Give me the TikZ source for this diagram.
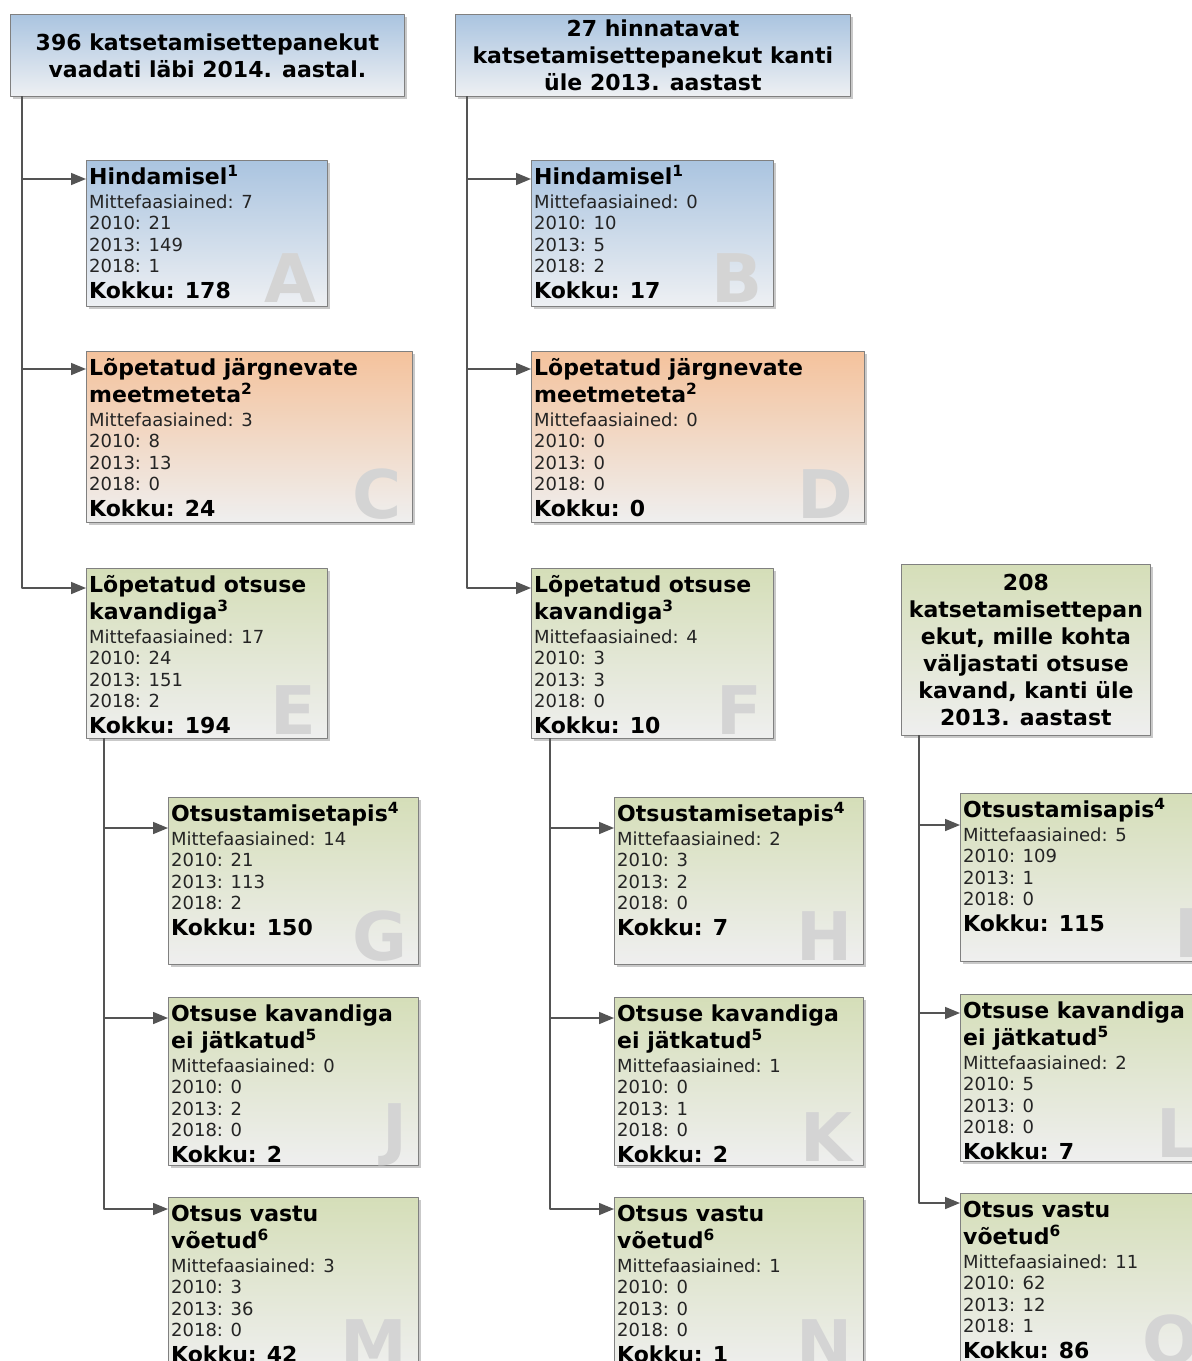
\documentclass[tikz,border=0pt]{standalone}
\usepackage{fontspec}
\setmainfont{DejaVu Sans}
\usepackage{tikz}
\usetikzlibrary{arrows.meta,shadows}
\definecolor{aac4e0}{rgb}{0.667,0.769,0.878}
\definecolor{eef0f3}{rgb}{0.933,0.941,0.953}
\definecolor{fac29c}{rgb}{0.957,0.761,0.612}
\definecolor{dddeb8}{rgb}{0.835,0.871,0.722}
\definecolor{efefef}{rgb}{0.937,0.937,0.937}
\definecolor{raam}{rgb}{0.5,0.5,0.5}
\definecolor{joon}{rgb}{0.33,0.33,0.33}
\definecolor{tahtvarv}{rgb}{0.83,0.83,0.83}
\definecolor{sisuvarv}{rgb}{0.14,0.14,0.14}
\tikzset{
  kast/.style={draw=raam, line width=0.8pt, anchor=north west, inner sep=0pt,
    drop shadow={shadow xshift=2.5pt, shadow yshift=-2.5pt, fill=black!30, opacity=0.7}},
  sinine/.style={kast, top color=aac4e0, bottom color=eef0f3},
  oranz/.style={kast, top color=fac29c, bottom color=efefef},
  roheline/.style={kast, top color=dddeb8, bottom color=efefef},
  pais/.style={align=center, font=\fontsize{22}{27}\selectfont\bfseries},
  tekst/.style={anchor=base west, inner sep=0pt, text=black},
  taht/.style={anchor=base east, inner sep=0pt, text=tahtvarv, font=\fontsize{67}{67}\selectfont\bfseries},
  liin/.style={->, draw=joon, line width=1.6pt}
}
% box: name, corner, width, height, style, title, lines, total, letter
\newcommand{\kast}[9]{%
  \node[#5, minimum width=#3, minimum height=#4] (#1) at (#2) {};
  \node[tekst] (#1t) at ([xshift=3,yshift=-24]#1.north west) {\parbox[t]{330pt}{\raggedright
    {\fontsize{22}{27}\bfseries #6\par}\vspace{2.5pt}
    {\fontsize{18}{21.5}\selectfont\leavevmode\color{sisuvarv}#7\par}
    {\fontsize{22}{25.5}\bfseries Kokku: #8\par}}};
  \node[taht] (#1m) at ([xshift=-11,yshift=4]#1.south east) {#9};
}

\begin{document}
\begin{tikzpicture}[line cap=round,line join=round,>={Triangle[length=15pt,width=12pt]},x=1pt,y=-1pt]
\useasboundingbox (0,0) rectangle (1192,1361);
\clip (0,0) rectangle (1192,1361);
% headers
\node[sinine, pais, minimum width=394, minimum height=82] (p1) at (10,14) {396 katsetamisettepanekut\\vaadati läbi 2014. aastal.};
\node[sinine, pais, minimum width=395, minimum height=82] (p2) at (455,14) {27 hinnatavat\\katsetamisettepanekut kanti\\üle 2013. aastast};
\node[roheline, pais, minimum width=249, minimum height=171] (p3) at (901,564) {208\\katsetamisettepan\\ekut, mille kohta\\väljastati otsuse\\kavand, kanti üle\\2013. aastast};
% first column
\kast{A}{86,160}{241}{146}{sinine}{Hindamisel\textsuperscript{1}}{Mittefaasiained: 7\\2010: 21\\2013: 149\\2018: 1}{178}{A}
\kast{C}{86,351}{326}{171}{oranz}{Lõpetatud järgnevate\\meetmeteta\textsuperscript{2}}{Mittefaasiained: 3\\2010: 8\\2013: 13\\2018: 0}{24}{C}
\kast{E}{86,568}{241}{170}{roheline}{Lõpetatud otsuse\\kavandiga\textsuperscript{3}}{Mittefaasiained: 17\\2010: 24\\2013: 151\\2018: 2}{194}{E}
\kast{G}{168,797}{250}{167}{roheline}{Otsustamisetapis\textsuperscript{4}}{Mittefaasiained: 14\\2010: 21\\2013: 113\\2018: 2}{150}{G}
\kast{J}{168,997}{250}{168}{roheline}{Otsuse kavandiga\\ei jätkatud\textsuperscript{5}}{Mittefaasiained: 0\\2010: 0\\2013: 2\\2018: 0}{2}{\raisebox{9pt}{J}}
\kast{M}{168,1197}{250}{175}{roheline}{Otsus vastu\\võetud\textsuperscript{6}}{Mittefaasiained: 3\\2010: 3\\2013: 36\\2018: 0}{42}{M}
% second column
\kast{B}{531,160}{242}{146}{sinine}{Hindamisel\textsuperscript{1}}{Mittefaasiained: 0\\2010: 10\\2013: 5\\2018: 2}{17}{B}
\kast{D}{531,351}{333}{171}{oranz}{Lõpetatud järgnevate\\meetmeteta\textsuperscript{2}}{Mittefaasiained: 0\\2010: 0\\2013: 0\\2018: 0}{0}{D}
\kast{F}{531,568}{242}{170}{roheline}{Lõpetatud otsuse\\kavandiga\textsuperscript{3}}{Mittefaasiained: 4\\2010: 3\\2013: 3\\2018: 0}{10}{F}
\kast{H}{614,797}{249}{167}{roheline}{Otsustamisetapis\textsuperscript{4}}{Mittefaasiained: 2\\2010: 3\\2013: 2\\2018: 0}{7}{H}
\kast{K}{614,997}{249}{168}{roheline}{Otsuse kavandiga\\ei jätkatud\textsuperscript{5}}{Mittefaasiained: 1\\2010: 0\\2013: 1\\2018: 0}{2}{K}
\kast{N}{614,1197}{249}{175}{roheline}{Otsus vastu\\võetud\textsuperscript{6}}{Mittefaasiained: 1\\2010: 0\\2013: 0\\2018: 0}{1}{N}
% third column
\kast{I}{960,793}{250}{168}{roheline}{Otsustamisapis\textsuperscript{4}}{Mittefaasiained: 5\\2010: 109\\2013: 1\\2018: 0}{115}{I}
\kast{L}{960,994}{250}{167}{roheline}{Otsuse kavandiga\\ei jätkatud\textsuperscript{5}}{Mittefaasiained: 2\\2010: 5\\2013: 0\\2018: 0}{7}{L}
\kast{O}{960,1193}{250}{175}{roheline}{Otsus vastu\\võetud\textsuperscript{6}}{Mittefaasiained: 11\\2010: 62\\2013: 12\\2018: 1}{86}{O}
% connectors
\draw[liin] ([xshift=12]p1.south west) |- ([yshift=-19]A.north west);
\draw[liin] ([xshift=12]p1.south west) |- ([yshift=-18]C.north west);
\draw[liin] ([xshift=12]p1.south west) |- ([yshift=-20]E.north west);
\draw[liin] ([xshift=12]p2.south west) |- ([yshift=-19]B.north west);
\draw[liin] ([xshift=12]p2.south west) |- ([yshift=-18]D.north west);
\draw[liin] ([xshift=12]p2.south west) |- ([yshift=-20]F.north west);
\draw[liin] ([xshift=18]E.south west) |- ([yshift=-31]G.north west);
\draw[liin] ([xshift=18]E.south west) |- ([yshift=-21]J.north west);
\draw[liin] ([xshift=18]E.south west) |- ([yshift=-12]M.north west);
\draw[liin] ([xshift=19]F.south west) |- ([yshift=-31]H.north west);
\draw[liin] ([xshift=19]F.south west) |- ([yshift=-21]K.north west);
\draw[liin] ([xshift=19]F.south west) |- ([yshift=-12]N.north west);
\draw[liin] ([xshift=18]p3.south west) |- ([yshift=-32]I.north west);
\draw[liin] ([xshift=18]p3.south west) |- ([yshift=-19]L.north west);
\draw[liin] ([xshift=18]p3.south west) |- ([yshift=-10]O.north west);
\end{tikzpicture}
\end{document}
